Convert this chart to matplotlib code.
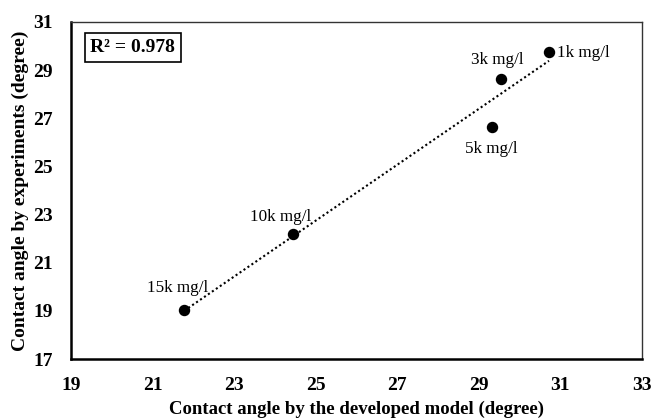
import matplotlib
matplotlib.use("Agg")
import matplotlib.pyplot as plt
import numpy as np

labels = ["1k mg/l", "3k mg/l", "5k mg/l", "10k mg/l", "15k mg/l"]
model = [30.73, 29.54, 29.32, 24.44, 21.78]
experiment = [29.77, 28.62, 26.64, 22.18, 19.04]
r2_text = "R² = 0.978"
xticks = [19, 21, 23, 25, 27, 29, 31, 33]
yticks = [17, 19, 21, 23, 25, 27, 29, 31]

plt.rcParams['font.family'] = ['Liberation Serif', 'DejaVu Serif']

fig = plt.figure(figsize=(6.52, 4.18), dpi=100)
ax = fig.add_axes([0.1089, 0.1411, 0.875, 0.8063])

x = np.array(model)
y = np.array(experiment)
m, b = np.polyfit(x, y, 1)
xl = np.array([x.min(), x.max()])
ax.plot(xl, m * xl + b, linestyle=(0, (1, 1.3)), color='black', linewidth=1.5, zorder=2)
ax.scatter(x, y, s=52, color='black', zorder=3)

offsets = {
    "1k mg/l": (6, -1, 'left', 'center'),
    "3k mg/l": (-2, 8, 'center', 'bottom'),
    "5k mg/l": (0, -10, 'center', 'top'),
    "10k mg/l": (-9, 7, 'center', 'bottom'),
    "15k mg/l": (-5, 10, 'center', 'bottom'),
}
for lab, xi, yi in zip(labels, model, experiment):
    dx, dy, ha, va = offsets[lab]
    ax.annotate(lab, (xi, yi), xytext=(dx, dy), textcoords='offset points',
                ha=ha, va=va, fontsize=12.3)

ax.text(0.034, 0.95, r2_text, transform=ax.transAxes, fontsize=14, fontweight='bold',
        ha='left', va='top',
        bbox=dict(boxstyle='square,pad=0.3', facecolor='white', edgecolor='black', linewidth=1.2))

ax.set_xlim(19, 33)
ax.set_ylim(17, 31)
ax.set_xticks(xticks)
ax.set_yticks(yticks)
ax.tick_params(length=0, labelsize=14, pad=13)
for lbl in ax.get_xticklabels() + ax.get_yticklabels():
    lbl.set_fontweight('bold')

for s in ['left', 'bottom']:
    ax.spines[s].set_linewidth(1.8)
    ax.spines[s].set_color('black')
for s in ['top', 'right']:
    ax.spines[s].set_linewidth(1.0)
    ax.spines[s].set_color('#333333')

ax.set_xlabel("Contact angle by the developed model (degree)", fontsize=13.5, fontweight='bold', labelpad=5)
ax.set_ylabel("Contact angle by experiments (degree)", fontsize=14, fontweight='bold', labelpad=3)

fig.savefig("out.png", dpi=100)
